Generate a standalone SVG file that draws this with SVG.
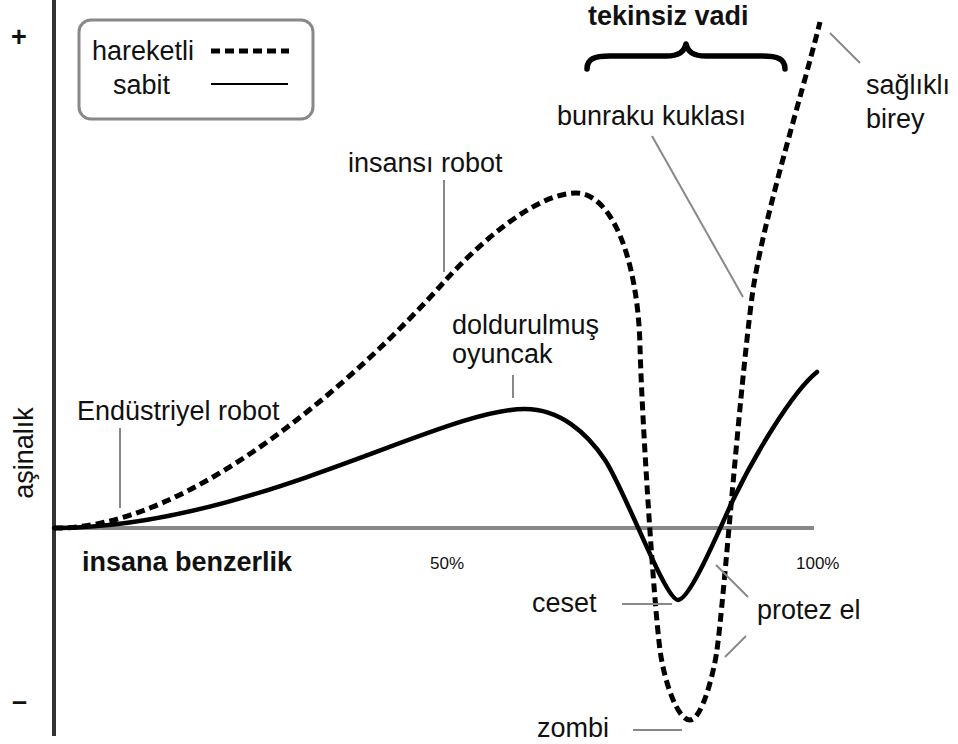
<svg xmlns="http://www.w3.org/2000/svg" width="958" height="744" viewBox="0 0 958 744">
<style>
text{font-family:"Liberation Sans",Arial,sans-serif;fill:#111;font-size:27px}
.b{font-weight:bold}
.s{font-size:17px}
.lead{stroke:#888;stroke-width:2;fill:none}
.dash{stroke:#000;stroke-width:5;fill:none;stroke-dasharray:9 5}
.solid{stroke:#000;stroke-width:4.5;fill:none;stroke-linecap:round}
</style>
<rect width="958" height="744" fill="#fff"/>
<g id="axes">
<line x1="54" y1="528" x2="814" y2="528" stroke="#888" stroke-width="4"/>
<line x1="54" y1="0" x2="54" y2="736" stroke="#333" stroke-width="4"/>
<text class="b" x="19" y="46" text-anchor="middle" font-size="28">+</text>
<text class="b" x="12" y="710" font-size="28">–</text>
<text x="33" y="453" text-anchor="middle" transform="rotate(-90 33 453)" font-size="26">aşinalık</text>
<text class="b" x="82" y="571">insana benzerlik</text>
<text class="s" x="430" y="569">50%</text>
<text class="s" x="796" y="569">100%</text>
</g>
<g id="legend">
<rect x="79" y="20" width="234" height="99" rx="12" fill="#fff" stroke="#888" stroke-width="3"/>
<text x="92" y="60">hareketli</text>
<text x="113" y="94">sabit</text>
<line x1="211" y1="51" x2="289" y2="51" class="dash" stroke-width="4.5"/>
<line x1="211" y1="84" x2="288" y2="84" stroke="#000" stroke-width="2"/>
</g>
<g id="uncanny-valley">
<text class="b" x="588" y="25">tekinsiz vadi</text>
<path d="M587,69 C587,59 594,56 610,56 L666,56 C679,56 684,52 686,44 C688,52 693,56 706,56 L762,56 C778,56 785,59 785,69" fill="none" stroke="#000" stroke-width="5.5" stroke-linecap="round" stroke-linejoin="round"/>
</g>
<g id="curves">
<path id="moving" class="dash" d="M54,528 C190,530 360,376 444,282 C478,244 536,193 576,193 C612,193 638,260 640,347 C642,420 654,605 660,650 C664,680 677,720 690,720 C702,720 714,672 717,650 C724,599 739,397 752,297 C761,227 800,102 820,22"/>
<path id="still" class="solid" d="M54,528 C250,528 440,409 525,409 C560,409 587,433 605,460 C625,490 665,600 678,600 C690,600 719,530 733,500 C753,458 792,392 817,372"/>
</g>
<g id="labels">
<g id="label-endustriyel"><text x="77" y="420">Endüstriyel robot</text><line class="lead" x1="120" y1="428" x2="120" y2="508"/></g>
<g id="label-insansi"><text x="348" y="172">insansı robot</text><line class="lead" x1="444" y1="180" x2="444" y2="272"/></g>
<g id="label-doldurulmus"><text x="452" y="334">doldurulmuş</text><text x="452" y="363">oyuncak</text><line class="lead" x1="513" y1="375" x2="513" y2="398"/></g>
<g id="label-bunraku"><text x="557" y="125">bunraku kuklası</text><line class="lead" x1="652" y1="136" x2="743" y2="297"/></g>
<g id="label-saglikli"><text x="866" y="94">sağlıklı</text><text x="866" y="128">birey</text><line class="lead" x1="830" y1="33" x2="860" y2="63"/></g>
<g id="label-ceset"><text x="532" y="612">ceset</text><line class="lead" x1="622" y1="604" x2="672" y2="604"/></g>
<g id="label-zombi"><text x="537" y="737">zombi</text><line class="lead" x1="633" y1="730" x2="682" y2="730"/></g>
<g id="label-protez"><text x="757" y="619">protez el</text><line class="lead" x1="716" y1="565" x2="748" y2="597"/><line class="lead" x1="746" y1="636" x2="725" y2="657"/></g>
</g>
</svg>
